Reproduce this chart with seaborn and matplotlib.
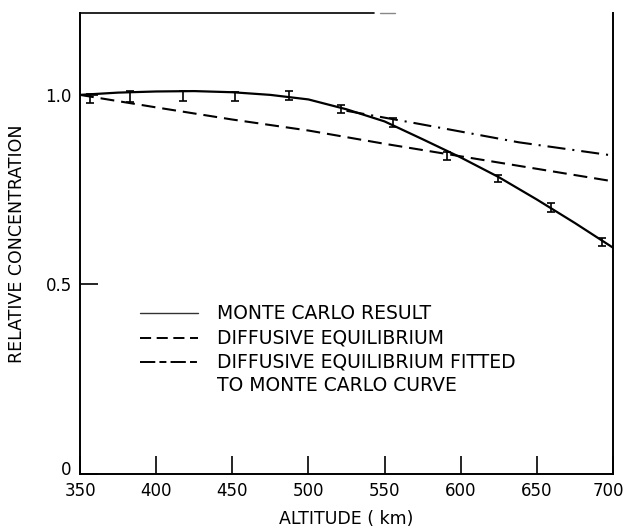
import matplotlib
matplotlib.use("Agg")
import matplotlib.pyplot as plt
import matplotlib.transforms as mtransforms
import seaborn as sns
import pandas as pd

# ---- data ----
mc_alt = [350, 375, 400, 425, 450, 475, 500, 525, 550, 575, 600, 625, 650, 675, 700]
mc_conc = [1.000, 1.006, 1.009, 1.010, 1.007, 1.000, 0.988, 0.962, 0.930, 0.883,
           0.835, 0.783, 0.724, 0.662, 0.597]

err_alt = [356.5, 382.8, 417.5, 451.6, 487.0, 521.7, 555.8, 590.9, 624.6, 659.0, 692.7]
err_conc = [0.990, 0.995, 0.997, 0.996, 0.998, 0.963, 0.927, 0.838, 0.780, 0.703, 0.612]
err_size = [0.012, 0.015, 0.012, 0.011, 0.011, 0.011, 0.012, 0.011, 0.009, 0.011, 0.010]

de_alt = [350, 400, 450, 500, 550, 600, 650, 700]
de_conc = [1.000, 0.967, 0.935, 0.906, 0.871, 0.838, 0.805, 0.772]

fit_alt = [525, 572, 638, 700]
fit_conc = [0.958, 0.924, 0.875, 0.840]

x_ticks = [350, 400, 450, 500, 550, 600, 650, 700]
y_ticks = [0, 0.5, 1.0]
y_ticklabels = ["0", "0.5", "1.0"]

legend_labels = ["MONTE CARLO RESULT", "DIFFUSIVE EQUILIBRIUM",
                 "DIFFUSIVE EQUILIBRIUM FITTED", "TO MONTE CARLO CURVE"]

sns.set_theme(style="white")
plt.rcParams['font.family'] = ['DejaVu Sans']
plt.rcParams['lines.scale_dashes'] = False

fig = plt.figure(figsize=(6.27, 5.31), dpi=100)
ax = fig.add_axes([80/627, 57/531, 533/627, 461/531])

mc = pd.DataFrame({"alt": mc_alt, "conc": mc_conc})
de = pd.DataFrame({"alt": de_alt, "conc": de_conc})
fit = pd.DataFrame({"alt": fit_alt, "conc": fit_conc})

sns.lineplot(data=mc, x="alt", y="conc", ax=ax, color="black", lw=1.6)
sns.lineplot(data=de, x="alt", y="conc", ax=ax, color="black", lw=1.5,
             linestyle=(0, (10, 5)))
sns.lineplot(data=fit, x="alt", y="conc", ax=ax, color="black", lw=1.5,
             linestyle=(0, (13, 5, 1.5, 5)))
ax.errorbar(err_alt, err_conc, yerr=err_size, fmt="none", ecolor="black",
            elinewidth=1.2, capsize=3, capthick=1.2)

ax.set_xlim(350, 700)
ax.set_ylim(0, 1.216)
ax.set_xticks(x_ticks)
ax.set_yticks(y_ticks)
ax.set_yticklabels(y_ticklabels)
ax.tick_params(axis="both", which="major", bottom=True, left=True, top=False, right=False,
               direction="in", length=13, width=1.2, color="black",
               labelsize=12, pad=6, labelcolor="black")
ax.set_xlabel("ALTITUDE ( km)", fontsize=12.5, labelpad=7, color="black")
ax.set_ylabel("RELATIVE CONCENTRATION", fontsize=12.5, labelpad=14, color="black")

# nudge edge tick labels as in the reference
xl = ax.get_xticklabels()
xl[-1].set_transform(xl[-1].get_transform() +
                     mtransforms.ScaledTranslation(-5/100, 0, fig.dpi_scale_trans))
yl = ax.get_yticklabels()
yl[0].set_transform(yl[0].get_transform() +
                    mtransforms.ScaledTranslation(0, 6/100, fig.dpi_scale_trans))

for s in ["left", "bottom", "right"]:
    ax.spines[s].set_color("black")
    ax.spines[s].set_linewidth(1.4)
ax.spines["top"].set_visible(False)
# partial top border as in reference
ax.plot([0, 0.552], [1, 1], transform=ax.transAxes, color="black", lw=1.2,
        clip_on=False)
ax.plot([0.563, 0.591], [1, 1], transform=ax.transAxes, color="#888888", lw=1.0,
        clip_on=False)

# hand-drawn legend
lx0, lx1, tx = 0.113, 0.221, 0.257
rows = [0.349, 0.295, 0.243, 0.193]
ax.plot([lx0, lx1], [rows[0], rows[0]], transform=ax.transAxes, color="#333333", lw=1.0)
ax.plot([lx0, lx1], [rows[1], rows[1]], transform=ax.transAxes, color="black", lw=1.4,
        linestyle=(0, (8, 4)))
ax.plot([lx0, lx1], [rows[2], rows[2]], transform=ax.transAxes, color="black", lw=1.4,
        linestyle=(0, (11, 3, 5, 3)))
for r, lab in zip(rows, legend_labels):
    ax.text(tx, r, lab, transform=ax.transAxes, fontsize=13.5, va="center",
            ha="left", color="black")

fig.savefig("out.png", dpi=100)
